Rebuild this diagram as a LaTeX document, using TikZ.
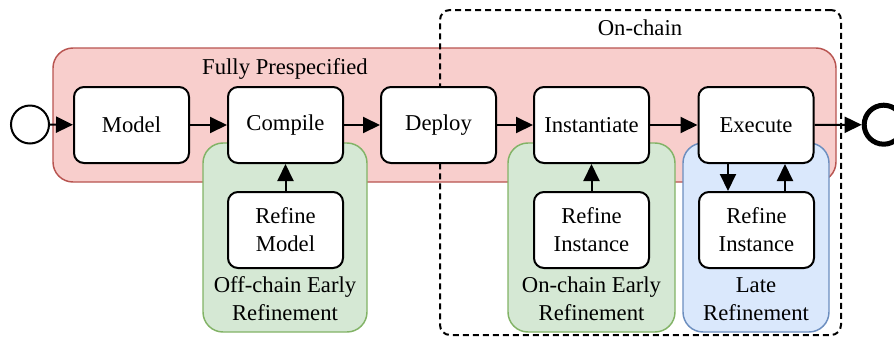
\documentclass[tikz,border=0pt]{standalone}
\usepackage{fontspec}
\setmainfont{Liberation Serif}
\usetikzlibrary{arrows.meta}
\definecolor{redfill}{HTML}{F8CECC}
\definecolor{redline}{HTML}{B85450}
\definecolor{greenfill}{HTML}{D5E8D4}
\definecolor{greenline}{HTML}{82B366}
\definecolor{bluefill}{HTML}{DAE8FC}
\definecolor{blueline}{HTML}{6C8EBF}
\begin{document}
\begin{tikzpicture}[x=0.75pt,y=-0.75pt,
  font=\fontsize{17}{21}\selectfont,
  proc/.style={draw, line width=1.5pt, fill=white, rounded corners=7.5pt, inner sep=0pt,
    minimum width=86.25pt, minimum height=57pt, align=center},
  region/.style={line width=1.1pt, rounded corners=15pt, inner sep=0pt},
  redreg/.style={region, draw=redline, fill=redfill},
  greenreg/.style={region, draw=greenline, fill=greenfill, minimum height=141.75pt},
  bluereg/.style={region, draw=blueline, fill=bluefill, minimum height=141.75pt},
  dashreg/.style={draw, dashed, line width=1.5pt, dash pattern=on 4.5pt off 3pt, rounded corners=7.5pt, inner sep=0pt},
  arr/.style={line width=1.5pt, -{Triangle[length=12.75pt,width=12pt]}},
  lbl/.style={inner sep=0pt, align=center}
]
\useasboundingbox (0,0) rectangle (894,337);
% regions
\node[redreg, minimum width=587.25pt, minimum height=100.5pt] (full) at (444.5,115) {};
\node[lbl] (fulllbl) at (285,69) {Fully Prespecified};
\node[dashreg, minimum width=300.75pt, minimum height=243.75pt] (onchain) at (640.5,172.5) {};
\node[lbl] (onchainlbl) at (640,28) {On-chain};
\node[greenreg, minimum width=123pt] (offearly) at (285,237.5) {};
\node[greenreg, minimum width=125.25pt] (onearly) at (591.5,237.5) {};
\node[bluereg, minimum width=109.5pt] (late) at (756,237.5) {};
\node[lbl] (offearlylbl) at (285,299) {Off-chain Early\\Refinement};
\node[lbl] (onearlylbl) at (591.5,299) {On-chain Early\\Refinement};
\node[lbl] (latelbl) at (756,299) {Late\\Refinement};
% events
\node[draw, circle, line width=1.5pt, minimum size=28.5pt, inner sep=0pt, fill=white] (start) at (30,124.5) {};
\node[draw, circle, line width=3.75pt, minimum size=29.25pt, inner sep=0pt, fill=white] (end) at (883.7,124.7) {};
% processes
\node[proc] (model) at (131.5,125) {Model};
\node[proc] (compile) at (285.5,125) {Compile};
\node[proc] (deploy) at (438.5,125) {Deploy};
\node[proc] (inst) at (591.5,125) {Instantiate};
\node[proc] (exec) at (756,125) {Execute};
\node[proc] (refmodel) at (285.5,230) {Refine\\Model};
\node[proc] (refinst) at (591.5,230) {Refine\\Instance};
\node[proc] (reflate) at (756.5,230) {Refine\\Instance};
% connectors
\draw[arr] (start) -- (model);
\draw[arr] (model) -- (compile);
\draw[arr] (compile) -- (deploy);
\draw[arr] (deploy) -- (inst);
\draw[arr] (inst) -- (exec);
\draw[arr] (exec) -- (end);
\draw[arr] (refmodel) -- (compile);
\draw[arr] (refinst) -- (inst);
\coordinate (dn) at (728,0);
\coordinate (up) at (785,0);
\draw[arr] (exec.south -| dn) -- (reflate.north -| dn);
\draw[arr] (reflate.north -| up) -- (exec.south -| up);
\end{tikzpicture}
\end{document}
